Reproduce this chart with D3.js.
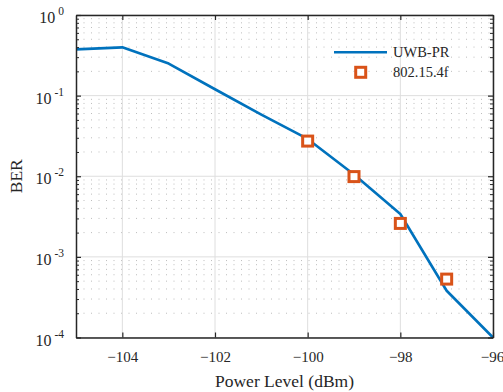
<!DOCTYPE html>
<html>
<head>
<meta charset="utf-8">
<script src="https://cdn.jsdelivr.net/npm/d3@7"></script>
<style>
  body { margin: 0; background: #fff; }
  text { font-family: "Liberation Serif", "Times New Roman", serif; fill: #262626; }
</style>
</head>
<body>
<svg id="chart" width="503" height="392"></svg>
<script>
// data
const power = [-105, -104, -103, -102, -101, -100, -99, -98, -97, -96];
const berUwb = [0.375, 0.397, 0.25, 0.12, 0.058, 0.029, 0.0105, 0.0034, 0.00038, 0.0001];
const power154f = [-100, -99, -98, -97];
const ber154f = [0.0273, 0.0099, 0.0026, 0.00053];
const seriesNames = ['UWB-PR', '802.15.4f'];
const xTicks = [-104, -102, -100, -98, -96];
const yTicks = [1e-4, 1e-3, 1e-2, 1e-1, 1];
const yExponents = ['-4', '-3', '-2', '-1', '0'];

const blue = '#0072BD', orange = '#D95319', axisColor = '#262626';
const margin = { top: 15, right: 10, bottom: 54.5, left: 76 };
const width = 503, height = 392;
const svg = d3.select('#chart');

const x = d3.scaleLinear().domain([-105, -96]).range([margin.left, width - margin.right]);
const y = d3.scaleLog().domain([1e-4, 1]).range([height - margin.bottom, margin.top]);

// minor log ticks 2..9 in each decade
const yMinor = [];
yTicks.slice(0, -1).forEach(d => { for (let k = 2; k <= 9; k++) yMinor.push(k * d); });

// grid
const grid = svg.append('g');
grid.selectAll('.minor').data(yMinor).enter().append('line')
  .attr('x1', x.range()[0]).attr('x2', x.range()[1])
  .attr('y1', d => y(d)).attr('y2', d => y(d))
  .attr('stroke', '#bdbdbd').attr('stroke-width', 1).attr('stroke-dasharray', '1,6.5');
grid.selectAll('.hmaj').data(yTicks).enter().append('line')
  .attr('x1', x.range()[0]).attr('x2', x.range()[1])
  .attr('y1', d => y(d)).attr('y2', d => y(d))
  .attr('stroke', '#dedede').attr('stroke-width', 1);
grid.selectAll('.vmaj').data(xTicks).enter().append('line')
  .attr('x1', d => x(d)).attr('x2', d => x(d))
  .attr('y1', y.range()[0]).attr('y2', y.range()[1])
  .attr('stroke', '#dedede').attr('stroke-width', 1);

// series
const line = d3.line().x(d => x(d[0])).y(d => y(d[1]));
svg.append('path').datum(d3.zip(power, berUwb))
  .attr('d', line).attr('fill', 'none')
  .attr('stroke', blue).attr('stroke-width', 2.6).attr('stroke-linejoin', 'round');

const ms = 10;
svg.append('g').selectAll('rect').data(d3.zip(power154f, ber154f)).enter().append('rect')
  .attr('x', d => x(d[0]) - ms / 2).attr('y', d => y(d[1]) - ms / 2)
  .attr('width', ms).attr('height', ms)
  .attr('fill', '#fff').attr('stroke', orange).attr('stroke-width', 3);

// axes (ticks pointing inward, box on)
function styleAxis(g) {
  g.selectAll('.domain').attr('stroke', axisColor).attr('stroke-width', 1.5);
  g.selectAll('.tick line').attr('stroke', axisColor).attr('stroke-width', 1.2);
}
const yB = y.range()[0], yT = y.range()[1], xL = x.range()[0], xR = x.range()[1];

const gx = svg.append('g').attr('transform', `translate(0,${yB})`)
  .call(d3.axisBottom(x).tickValues(xTicks).tickSize(-5).tickSizeOuter(0));
gx.selectAll('.tick text').style('font-size', '15px').attr('dy', 0).attr('y', 24)
  .attr('dx', d => d === -96 ? -1 : 0);
styleAxis(gx);
svg.append('g').attr('transform', `translate(0,${yT})`)
  .call(d3.axisTop(x).tickValues(xTicks).tickSize(-5).tickSizeOuter(0).tickFormat(''))
  .call(styleAxis);

const gy = svg.append('g').attr('transform', `translate(${xL},0)`)
  .call(d3.axisLeft(y).tickValues(yTicks).tickSize(-5).tickSizeOuter(0).tickFormat(''));
styleAxis(gy);
gy.selectAll('.tick').each(function (d, i) {
  const t = d3.select(this).append('text')
    .attr('x', -12).attr('y', 7.5).attr('text-anchor', 'end').style('font-size', '16px');
  t.append('tspan').text('10');
  t.append('tspan').attr('dx', 3).attr('dy', -7.8).style('font-size', '11.5px').text(yExponents[i]);
});
svg.append('g').attr('transform', `translate(${xL},0)`)
  .call(d3.axisLeft(y).tickValues(yMinor).tickSize(-3).tickSizeOuter(0).tickFormat(''))
  .call(g => { g.select('.domain').remove(); g.selectAll('.tick line').attr('stroke', axisColor); });

svg.append('g').attr('transform', `translate(${xR},0)`)
  .call(d3.axisRight(y).tickValues(yTicks).tickSize(-5).tickSizeOuter(0).tickFormat(''))
  .call(styleAxis);
svg.append('g').attr('transform', `translate(${xR},0)`)
  .call(d3.axisRight(y).tickValues(yMinor).tickSize(-3).tickSizeOuter(0).tickFormat(''))
  .call(g => { g.select('.domain').remove(); g.selectAll('.tick line').attr('stroke', axisColor); });

// axis labels
svg.append('text').attr('x', (xL + xR) / 2).attr('y', 387)
  .attr('text-anchor', 'middle').style('font-size', '17.5px').text('Power Level (dBm)');
svg.append('text').attr('transform', `translate(21.5,${(yB + yT) / 2}) rotate(-90)`)
  .attr('text-anchor', 'middle').style('font-size', '17.5px').text('BER');

// legend
const legend = svg.append('g');
legend.append('line').attr('x1', 334).attr('x2', 387).attr('y1', 52.3).attr('y2', 52.3)
  .attr('stroke', blue).attr('stroke-width', 2.6);
legend.append('rect').attr('x', 360.7 - ms / 2).attr('y', 72.3 - ms / 2)
  .attr('width', ms).attr('height', ms)
  .attr('fill', '#fff').attr('stroke', orange).attr('stroke-width', 3);
legend.selectAll('text.lg').data(seriesNames).enter().append('text')
  .attr('x', 393).attr('y', (d, i) => 57.3 + i * 20)
  .style('font-size', '14.5px').text(d => d);
</script>
</body>
</html>
